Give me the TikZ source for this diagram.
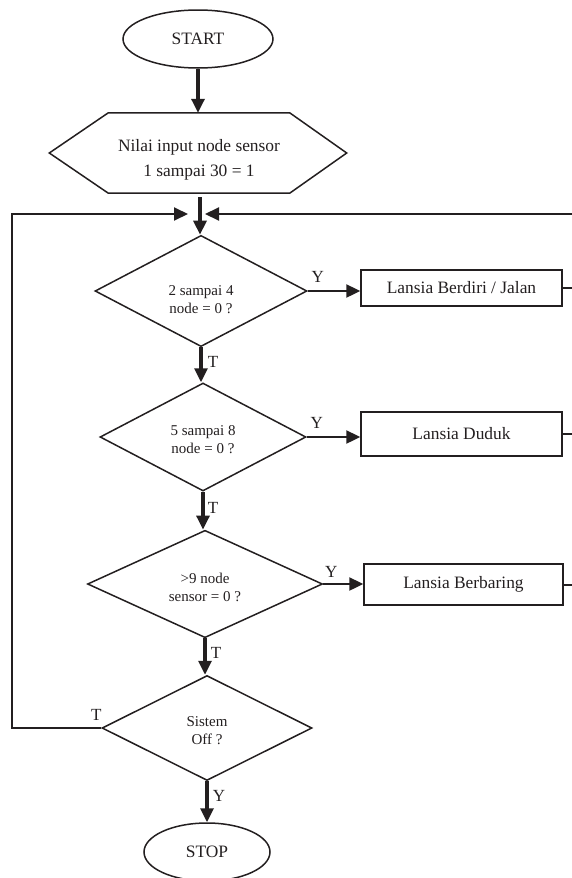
\documentclass[tikz,border=0pt]{standalone}
\usepackage{fontspec}
\setmainfont{Liberation Serif}
\usetikzlibrary{shapes.geometric,arrows.meta,positioning}
\definecolor{ink}{HTML}{231F20}
\tikzset{
  terminal/.style={ellipse,draw=ink,line width=1.5pt,inner sep=0pt},
  decision/.style={diamond,draw=ink,line width=1.5pt,inner sep=0pt,align=center,font=\fontsize{15}{18}\selectfont},
  process/.style={rectangle,draw=ink,line width=1.5pt,minimum width=201pt},
  head/.style={-{Triangle[length=14pt,width=13pt]}},
  flow/.style={draw=ink,line width=3.2pt,head},
  yes/.style={draw=ink,line width=2.4pt,head},
  back/.style={draw=ink,line width=2pt},
  lbl/.style={inner sep=0pt,pos=0,font=\fontsize{17}{20}\selectfont}
}
\begin{document}
\begin{tikzpicture}[x=1pt,y=-1pt,text=ink,font=\fontsize{17.4}{20}\selectfont]
\useasboundingbox (0,0) rectangle (572,878);

% Start
\node[terminal,minimum width=150pt,minimum height=58pt] (start) at (198,39) {START};

% Input
\node[inner sep=0pt,minimum width=181pt,minimum height=80pt,align=center,font=\fontsize{17.4}{25}\selectfont] (input) at (199,153) {\rule{0pt}{25pt}Nilai input node sensor\\1 sampai 30 = 1};
\draw[ink,line width=1.5pt] (input.north west) -- (input.north east) -- ([xshift=57pt]input.east) -- (input.south east) -- (input.south west) -- ([xshift=-59pt]input.west) -- cycle;

% Decisions
\node[decision,minimum width=212pt,minimum height=100pt] (d1) at (201,291) {\rule{0pt}{28pt}2 sampai 4\\node = 0 ?};
\node[decision,minimum width=206pt,minimum height=108pt] (d2) at (203,437) {\rule{0pt}{16pt}5 sampai 8\\node = 0 ?};
\node[decision,minimum width=235pt,minimum height=100pt] (d3) at (205,584) {\rule{0pt}{17pt}>9 node\\sensor = 0 ?};
\node[decision,minimum width=210pt,minimum height=105pt] (d4) at (207,728) {\rule{0pt}{15pt}Sistem\\Off ?};

% Results
\node[process,minimum height=36pt] (b1) at (461.5,288) {Lansia Berdiri / Jalan};
\node[process,minimum height=44pt] (b2) at (461.5,434) {Lansia Duduk};
\node[process,minimum width=199pt,minimum height=41pt] (b3) at (463.5,584.5) {Lansia Berbaring};

% Stop
\node[terminal,minimum width=126pt,minimum height=58pt] (stop) at (207,852) {STOP};

% Loop points
\coordinate (join) at (200,214);
\coordinate (lcorner) at (12,214);
\coordinate (redge) at (572,214);

% Main flow
\draw[flow] (start.south) -- (start.south |- input.north);
\draw[flow,shorten <=4pt] (join |- input.south) -- (join |- d1.north);
\draw[flow] (d1.south) -- node[lbl,xshift=12pt,yshift=-15pt] {T} (d1.south |- d2.north);
\draw[flow] (d2.south) -- node[lbl,xshift=10pt,yshift=-16pt] {T} (d2.south |- d3.north);
\draw[flow] (d3.south) -- node[lbl,xshift=11pt,yshift=-14pt] {T} (d3.south |- d4.north);
\draw[flow] (d4.south) -- node[lbl,xshift=12pt,yshift=-15pt] {Y} (stop.north);

% Yes branches
\draw[yes] (d1.east) -- node[lbl,xshift=10pt,yshift=14pt] {Y} (d1.east -| b1.west);
\draw[yes] (d2.east) -- node[lbl,xshift=10pt,yshift=14pt] {Y} (d2.east -| b2.west);
\draw[yes] (d3.east) -- node[lbl,xshift=8pt,yshift=12pt] {Y} (d3.east -| b3.west);

% Back to the top
\draw[back] (b1.east) -- (b1.east -| redge);
\draw[back] (b2.east) -- (b2.east -| redge);
\draw[back] (b3.east) -- (b3.east -| redge);
\draw[back,head] (redge) -- ([xshift=5pt]join);
\draw[back,head] (d4.west) -- node[lbl,xshift=-5pt,yshift=13pt] {T} (d4.west -| lcorner) -- (lcorner) -- ([xshift=-12pt]join);
\end{tikzpicture}
\end{document}
